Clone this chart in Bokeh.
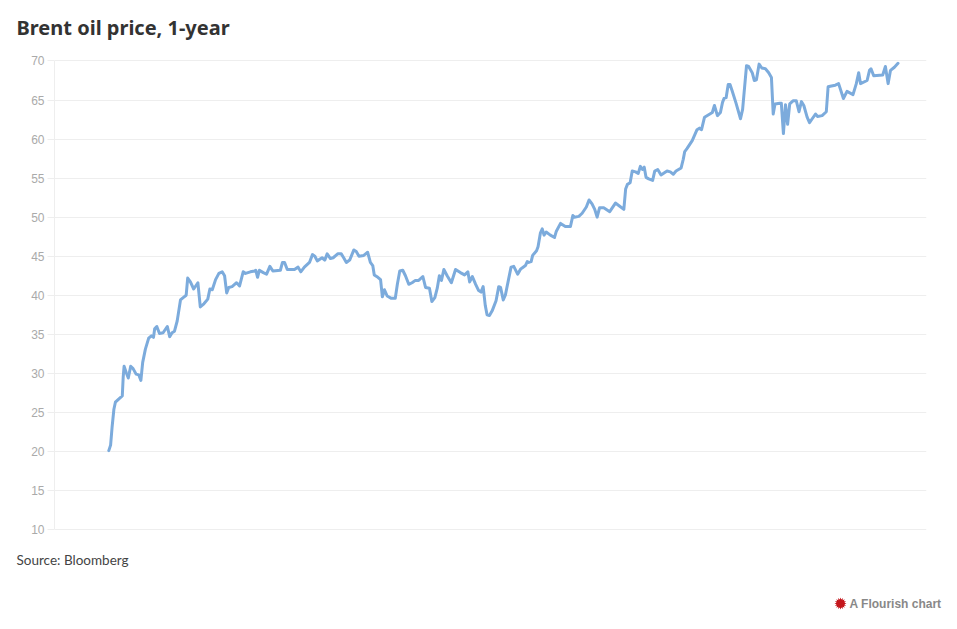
import math
from bokeh.plotting import figure
from bokeh.layouts import column
from bokeh.models import Label, PolyAnnotation, Range1d, FixedTicker
from bokeh.embed import file_html
from bokeh.resources import INLINE

title_text = "Brent oil price, 1-year"
source_text = "Source: Bloomberg"
credit_text = "A Flourish chart"
y_ticks = [10, 15, 20, 25, 30, 35, 40, 45, 50, 55, 60, 65, 70]

days = [0.1,0.7,1.2,1.8,2.3,3.4,4.6,4.9,5.2,5.9,6.6,7.4,8.2,9.2,10.1,10.8,11.4,12.3,13.4,14.3,15,15.4,16.1,17,18.2,19.6,20.4,21.2,22,22.9,24,24.9,25.9,26.4,27.3,28.4,29.8,30.6,31.8,33.1,33.8,34.6,35.7,36.8,37.9,38.7,39.4,40.1,41.2,42.7,43.7,44.9,45.7,47.3,48.7,49.1,49.7,50.3,51.6,52.7,53.8,54.8,57.3,58,58.7,59.6,62,
63.2,64.1,65.3,67,68,68.8,69.6,71.2,72.1,72.9,74,74.9,76.4,77.6,78.4,79.3,80.4,81.8,82.6,83.5,85.1,86.4,87.3,88.1,88.6,89.8,90.7,91.3,92,92.9,94.3,95.6,96.3,97.1,98.1,99,100.1,101.2,102.3,103.4,104.8,105.7,107,107.8,108.8,109.6,110.3,111,111.8,112.9,114.3,115.7,117.3,118.7,119.8,120.4,121.3,122.4,123.4,124.2,124.9,125.6,126.2,127,127.9,129.2,130.1,130.7,131.6,132.3,133.4,134.2,135.1,136.4,137.3,
137.9,139,139.6,140.1,140.9,141.4,142.7,143.2,144,144.6,145.2,145.9,147.3,148.7,149.3,150.7,152.3,154,154.8,155.3,156.8,157.9,159.3,160.2,161.2,162.1,162.9,163.7,165.1,167.1,169,170.1,171.8,172.4,173,173.9,174.6,175.7,176.6,177.3,178,178.6,179.2,180.1,181.4,182.1,183.1,184.2,186.2,187.3,188.3,189.2,190.9,191.6,192.1,192.9,194.6,196.2,197,197.7,198.7,201.3,202,203,
204,204.7,205.2,205.9,206.6,207.2,207.9,209.2,210.7,211.4,212.7,213.4,214.6,215.3,216,216.9,217.8,219,220.1,221,221.6,222.2,223.8,224.3,225,225.7,226.4,227.1,228.2,229.3,230.2,231,231.8,232.9,233.7,234.6,235.7,236.4,237.9,239.3,239.9,241,242.3,243.4,245,246.2,248.2,249.3,250.1,250.7,252.9,253.7,254.2,255.1,258.1,259,259.9,260.7,262,263.2]

prices = [20.1,20.8,23.1,25.4,26.3,26.7,27.1,29.5,30.9,30.1,29.4,30.9,30.6,29.9,29.8,29.1,31.4,33.1,34.5,34.8,34.6,35.7,36.0,35.1,35.2,36.0,34.7,35.2,35.4,36.7,39.4,39.7,40.0,42.2,41.7,40.8,41.6,38.5,38.9,39.5,40.8,40.7,42.0,42.8,43.0,42.5,40.3,41.0,41.1,41.6,41.2,43.0,42.8,43.0,43.1,43.2,42.3,43.2,42.9,42.7,43.7,43.1,43.2,44.2,44.2,43.3,43.3,
43.6,43.0,43.6,44.2,45.2,45.0,44.4,44.8,44.5,45.3,44.7,44.8,45.3,45.3,44.8,44.2,44.5,45.8,45.6,45.0,45.1,45.5,44.2,43.8,42.6,42.3,42.0,39.8,40.7,39.9,39.6,39.6,41.4,43.1,43.2,42.5,41.4,41.6,41.9,41.9,42.4,41.0,40.9,39.2,39.7,40.9,42.5,41.9,43.3,42.5,41.6,43.3,42.9,42.6,43.0,41.7,42.4,41.4,40.6,40.4,41.1,38.7,37.5,37.4,38.0,39.3,41.1,41.0,39.4,40.0,42.1,43.6,43.7,42.7,43.3,
43.5,43.8,44.3,44.2,44.3,45.1,45.7,46.2,48.0,48.5,47.7,48.1,47.7,47.4,48.2,49.2,48.8,48.8,50.2,50.0,50.1,50.5,51.3,52.2,51.7,51.0,50.0,51.2,51.2,50.7,51.8,51.5,51.0,53.6,54.2,54.4,55.9,55.8,55.6,56.5,56.1,56.4,55.1,54.9,54.7,55.9,56.1,55.4,55.9,55.8,55.5,55.9,56.3,57.4,58.4,58.8,59.8,61.2,61.4,61.2,62.8,63.4,64.3,63.0,
63.4,64.7,65.2,65.3,67.0,67.0,66.2,64.6,62.6,63.8,69.4,69.3,68.5,67.5,67.6,69.6,69.1,69.0,68.5,67.9,63.2,64.5,64.6,64.6,60.7,64.4,61.9,64.5,64.9,64.9,63.5,64.8,64.3,62.8,62.1,62.6,63.2,62.9,63.0,63.5,66.7,66.8,66.9,67.1,65.2,66.1,65.7,67.1,68.5,67.1,67.5,68.8,69.0,68.1,68.2,69.3,67.1,68.8,69.2,69.7]

W = 948
HEAD_H = 52
MAIN_H = 488
FOOT_H = 80


def strip(height):
    f = figure(width=W, height=height, output_backend="svg", toolbar_location=None,
               x_range=Range1d(0, W), y_range=Range1d(0, height),
               x_axis_location=None, y_axis_location=None, frame_align=False,
               min_border_left=0, min_border_right=0, min_border_top=0, min_border_bottom=0)
    f.outline_line_color = None
    f.grid.visible = False
    return f


def add_text(f, text, x, y, size, color, font, style="normal"):
    f.add_layout(Label(x=x, y=y, x_units="screen", y_units="screen", text=text,
                       text_font=font, text_font_size=size, text_color=color,
                       text_font_style=style, text_baseline="middle", text_align="left"))


head = strip(HEAD_H)
add_text(head, title_text, 16, HEAD_H - 27, "20px", "#333333", "Noto Sans", "bold")

p = figure(width=W, height=MAIN_H, output_backend="svg", toolbar_location=None,
           x_range=Range1d(-18, 272.7), y_range=Range1d(9.87, 70.19), frame_align=False,
           min_border_left=54, min_border_right=W - 926, min_border_top=7, min_border_bottom=10)
p.outline_line_color = None
p.xaxis.visible = False
p.xgrid.visible = False
p.ygrid.ticker = FixedTicker(ticks=y_ticks)
p.ygrid.grid_line_color = "#eeeeee"
p.ygrid.grid_line_width = 1

ax = p.yaxis[0]
ax.ticker = FixedTicker(ticks=y_ticks)
ax.bounds = (10, 70)
ax.axis_line_color = "#eeeeee"
ax.major_tick_line_color = "#eeeeee"
ax.major_tick_in = 0
ax.major_tick_out = 7
ax.minor_tick_line_color = None
ax.major_label_standoff = 3
ax.major_label_text_font = "Liberation Sans"
ax.major_label_text_font_size = "12px"
ax.major_label_text_color = "#aaaaaa"

p.line(days, prices, line_color="#7cabdc", line_width=3, line_join="round", line_cap="round")

foot = strip(FOOT_H)
FOOT_TOP = HEAD_H + MAIN_H
add_text(foot, source_text, 16, FOOT_H - (559 - FOOT_TOP), "13.5px", "#444444", "Lato")
add_text(foot, credit_text, 849, FOOT_H - (603 - FOOT_TOP), "12px", "#888888", "Liberation Sans", "bold")

cx, cy = 840, FOOT_H - (603 - FOOT_TOP)
star_x, star_y = [], []
for i in range(32):
    r = 6 if i % 2 == 0 else 4
    a = math.pi * i / 16
    star_x.append(cx + r * math.cos(a))
    star_y.append(cy + r * math.sin(a))
foot.add_layout(PolyAnnotation(xs=star_x, ys=star_y, xs_units="screen", ys_units="screen",
                               fill_color="#c4161c", fill_alpha=1, line_color=None))

page = column(head, p, foot, spacing=0)
open("out.html", "w").write(file_html(page, INLINE))
